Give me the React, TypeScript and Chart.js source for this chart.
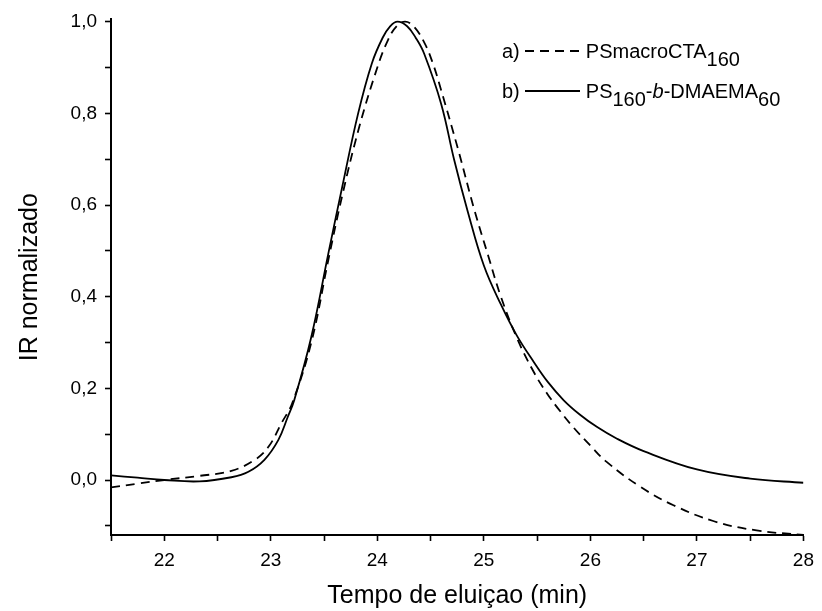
import React, { useEffect, useRef } from "react";
import { Chart, registerables } from "chart.js";

Chart.register(...registerables);

// a) PSmacroCTA160 (dashed)
const timeA = [21.5, 21.75, 22.0, 22.33, 22.63, 22.85, 22.98, 23.1, 23.2, 23.38, 23.54, 23.67, 23.83, 24.0, 24.1, 24.18, 24.26, 24.34, 24.44, 24.52, 24.6, 24.76, 24.91, 25.04, 25.16, 25.31, 25.47, 25.59, 25.69, 25.84, 26.0, 26.15, 26.47, 26.78, 27.16, 27.56, 28.0];
const irA = [-0.016, -0.008, 0.0, 0.009, 0.02, 0.044, 0.073, 0.124, 0.167, 0.3, 0.48, 0.62, 0.77, 0.9, 0.96, 0.99, 1.0, 0.99, 0.955, 0.91, 0.85, 0.72, 0.59, 0.49, 0.4, 0.31, 0.235, 0.19, 0.158, 0.115, 0.075, 0.04, -0.015, -0.055, -0.09, -0.11, -0.12];

// b) PS160-b-DMAEMA60 (solid)
const timeB = [21.5, 21.75, 22.0, 22.33, 22.63, 22.79, 22.94, 23.07, 23.16, 23.22, 23.38, 23.54, 23.67, 23.82, 23.95, 24.05, 24.12, 24.19, 24.28, 24.36, 24.44, 24.6, 24.72, 24.85, 25.0, 25.16, 25.31, 25.47, 25.6, 25.75, 25.9, 26.06, 26.25, 26.5, 27.0, 27.5, 28.0];
const irB = [0.01, 0.005, 0.0, -0.003, 0.006, 0.018, 0.044, 0.087, 0.138, 0.174, 0.312, 0.494, 0.639, 0.8, 0.91, 0.965, 0.99, 1.0, 0.99, 0.965, 0.93, 0.82, 0.7, 0.585, 0.468, 0.383, 0.315, 0.257, 0.214, 0.174, 0.143, 0.116, 0.09, 0.063, 0.023, 0.003, -0.006];

const xTickValues = [21.5, 22, 22.5, 23, 23.5, 24, 24.5, 25, 25.5, 26, 26.5, 27, 27.5, 28];
const xTickLabels = ["", "22", "", "23", "", "24", "", "25", "", "26", "", "27", "", "28"];
const yTickValues = [-0.1, 0, 0.1, 0.2, 0.3, 0.4, 0.5, 0.6, 0.7, 0.8, 0.9, 1.0];
const yTickLabels = ["", "0,0", "", "0,2", "", "0,4", "", "0,6", "", "0,8", "", "1,0"];

const FONT = "'Liberation Sans', Arial, Helvetica, sans-serif";

export default function App() {
  const canvasRef = useRef<HTMLCanvasElement | null>(null);

  useEffect(() => {
    const canvas = canvasRef.current;
    if (!canvas) return;
    const chart = new Chart(canvas, {
      type: "line",
      data: {
        datasets: [
          {
            label: "a) PSmacroCTA160",
            data: timeA.map((t, i) => ({ x: t, y: irA[i] })),
            borderColor: "#000",
            borderWidth: 1.8,
            borderDash: [9, 6],
            pointRadius: 0,
            tension: 0.4,
            fill: false,
          },
          {
            label: "b) PS160-b-DMAEMA60",
            data: timeB.map((t, i) => ({ x: t, y: irB[i] })),
            borderColor: "#000",
            borderWidth: 1.8,
            pointRadius: 0,
            tension: 0.4,
            fill: false,
          },
        ],
      },
      options: {
        animation: false,
        responsive: false,
        layout: { padding: { left: 0, right: 15, top: 19, bottom: 0 } },
        plugins: {
          legend: { display: false },
          tooltip: { enabled: false },
        },
        scales: {
          x: {
            type: "linear",
            min: 21.5,
            max: 28,
            afterBuildTicks: (scale: any) => {
              scale.ticks = xTickValues.map((v) => ({ value: v }));
            },
            afterFit: (scale: any) => {
              scale.height = 76;
            },
            ticks: {
              autoSkip: false,
              maxRotation: 0,
              padding: 8,
              color: "#000",
              font: { family: FONT, size: 19 },
              callback: (_v: any, i: number) => xTickLabels[i],
            },
            grid: {
              drawOnChartArea: false,
              drawTicks: true,
              tickLength: 6,
              tickWidth: 1.6,
              tickColor: "#000",
              color: "#000",
            },
            border: { display: true, color: "#000", width: 2 },
            title: {
              display: true,
              text: "Tempo de eluiçao (min)",
              color: "#000",
              font: { family: FONT, size: 25 },
              padding: { top: 0, bottom: 0 },
            },
          },
          y: {
            type: "linear",
            min: -0.12,
            max: 1.005,
            afterBuildTicks: (scale: any) => {
              scale.ticks = yTickValues.map((v) => ({ value: v }));
            },
            afterFit: (scale: any) => {
              scale.width = 111;
            },
            ticks: {
              autoSkip: false,
              padding: 8,
              color: "#000",
              font: { family: FONT, size: 19 },
              callback: (_v: any, i: number) => yTickLabels[i],
            },
            grid: {
              drawOnChartArea: false,
              drawTicks: true,
              tickLength: 6,
              tickWidth: 1.6,
              tickColor: "#000",
              color: "#000",
            },
            border: { display: true, color: "#000", width: 2 },
            title: {
              display: true,
              text: "IR normalizado",
              color: "#000",
              font: { family: FONT, size: 25 },
              padding: { top: 15, bottom: 0 },
            },
          },
        },
      },
    } as any);
    return () => chart.destroy();
  }, []);

  const textStyle: React.CSSProperties = {
    fontFamily: FONT,
    fontSize: 20,
    color: "#000",
    whiteSpace: "nowrap",
    lineHeight: "24px",
  };
  const sub: React.CSSProperties = { position: "relative", top: 8 };

  return (
    <div style={{ position: "absolute", left: 0, top: 0, width: 822, height: 611, background: "#fff" }}>
      <canvas ref={canvasRef} width={822} height={611} style={{ display: "block" }} />
      <div style={{ position: "absolute", left: 502, top: 39, height: 24, display: "flex", alignItems: "center", ...textStyle }}>
        <span>a)</span>
        <svg width={55} height={6} style={{ marginLeft: 5 }}>
          <line x1={0} y1={3} x2={55} y2={3} stroke="#000" strokeWidth={1.8} strokeDasharray="9 6" />
        </svg>
        <span style={{ marginLeft: 6 }}>
          PSmacroCTA<span style={sub}>160</span>
        </span>
      </div>
      <div style={{ position: "absolute", left: 502, top: 79, height: 24, display: "flex", alignItems: "center", ...textStyle }}>
        <span>b)</span>
        <svg width={55} height={6} style={{ marginLeft: 5 }}>
          <line x1={0} y1={3} x2={55} y2={3} stroke="#000" strokeWidth={1.8} />
        </svg>
        <span style={{ marginLeft: 6 }}>
          PS<span style={sub}>160</span>-<i>b</i>-DMAEMA<span style={sub}>60</span>
        </span>
      </div>
    </div>
  );
}
